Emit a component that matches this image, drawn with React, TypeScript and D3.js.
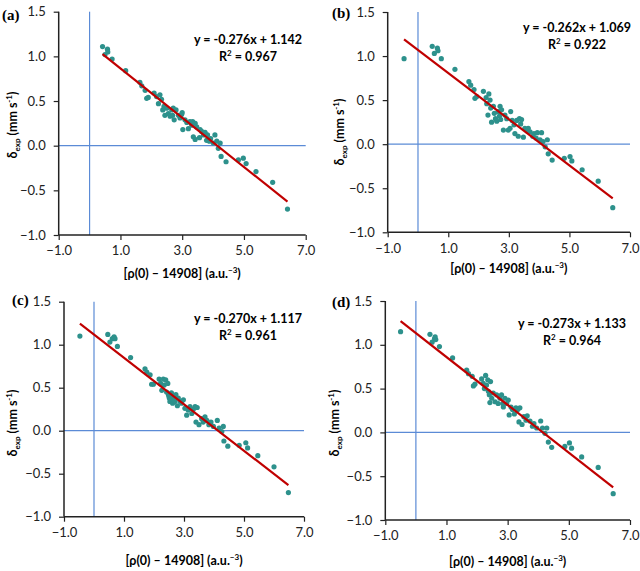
import { useEffect, useRef } from "react";
import * as d3 from "d3";

// panel (a)
const aX = [0.42, 0.5, 0.58, 0.59, 0.73, 1.17, 1.63, 1.69, 1.8, 1.85, 1.9, 2.09, 2.17, 2.23, 2.28, 2.33, 2.37, 2.41, 2.44, 2.5, 2.55, 2.61, 2.66, 2.69, 2.74, 2.71, 2.8, 2.88, 2.93, 2.98, 3.0, 3.02, 3.09, 3.15, 3.2, 3.25, 3.31, 3.34, 3.36, 3.42, 3.42, 3.47, 3.56, 3.58, 3.63, 3.69, 3.74, 3.79, 3.82, 3.88, 3.92, 4.01, 4.06, 4.12, 4.17, 4.23, 4.26, 4.42, 4.82, 4.98, 5.07, 5.39, 5.93, 6.41];
const aY = [1.11, 1.02, 1.08, 1.05, 0.97, 0.84, 0.71, 0.67, 0.62, 0.53, 0.54, 0.59, 0.55, 0.47, 0.57, 0.52, 0.4, 0.44, 0.34, 0.42, 0.36, 0.33, 0.4, 0.34, 0.29, 0.42, 0.4, 0.34, 0.31, 0.35, 0.37, 0.18, 0.29, 0.26, 0.19, 0.27, 0.23, 0.27, 0.1, 0.25, 0.07, 0.21, 0.09, 0.18, 0.16, 0.12, 0.15, 0.06, 0.12, 0.05, 0.08, 0.03, 0.12, 0.05, -0.03, 0.03, -0.12, -0.18, -0.16, -0.14, -0.2, -0.29, -0.41, -0.71];

// panel (b)
const bX = [-0.46, 0.47, 0.54, 0.64, 0.66, 0.77, 1.22, 1.68, 1.74, 1.85, 1.88, 1.94, 2.16, 2.25, 2.27, 2.31, 2.34, 2.38, 2.4, 2.43, 2.49, 2.52, 2.56, 2.6, 2.65, 2.69, 2.71, 2.73, 2.76, 2.82, 2.87, 2.93, 2.98, 3.04, 3.06, 3.11, 3.17, 3.2, 3.26, 3.31, 3.35, 3.39, 3.42, 3.48, 3.53, 3.61, 3.64, 3.7, 3.79, 3.83, 3.9, 3.94, 4.03, 4.08, 4.13, 4.2, 4.27, 4.3, 4.43, 4.83, 5.02, 5.08, 5.42, 5.95, 6.43];
const bY = [0.97, 1.11, 1.03, 1.09, 1.06, 0.97, 0.85, 0.71, 0.67, 0.62, 0.52, 0.54, 0.6, 0.53, 0.46, 0.33, 0.57, 0.5, 0.41, 0.25, 0.43, 0.35, 0.29, 0.26, 0.37, 0.32, 0.43, 0.28, 0.39, 0.16, 0.33, 0.29, 0.16, 0.18, 0.37, 0.27, 0.22, 0.12, 0.27, 0.09, 0.29, 0.23, 0.28, 0.08, 0.18, 0.15, 0.18, 0.14, 0.09, 0.12, 0.07, 0.13, 0.05, 0.13, 0.03, -0.03, 0.05, -0.11, -0.18, -0.16, -0.14, -0.19, -0.29, -0.42, -0.72];

// panel (c)
const cX = [-0.47, 0.46, 0.53, 0.61, 0.67, 0.7, 0.78, 1.22, 1.7, 1.76, 1.87, 1.92, 1.98, 2.17, 2.22, 2.26, 2.31, 2.34, 2.39, 2.42, 2.46, 2.48, 2.51, 2.53, 2.56, 2.59, 2.62, 2.64, 2.7, 2.73, 2.78, 2.81, 2.87, 2.92, 2.98, 3.03, 3.09, 3.14, 3.2, 3.26, 3.31, 3.37, 3.4, 3.44, 3.5, 3.59, 3.64, 3.7, 3.76, 3.83, 3.9, 3.98, 4.11, 4.17, 4.26, 4.31, 4.33, 4.46, 4.84, 5.06, 5.12, 5.46, 6.0, 6.48, 2.5, 2.55, 2.6, 2.66, 2.58];
const cY = [1.1, 1.12, 1.03, 1.07, 1.09, 1.07, 0.98, 0.85, 0.72, 0.68, 0.65, 0.54, 0.54, 0.6, 0.55, 0.47, 0.6, 0.53, 0.59, 0.45, 0.55, 0.42, 0.38, 0.34, 0.4, 0.36, 0.32, 0.38, 0.34, 0.42, 0.29, 0.38, 0.34, 0.32, 0.36, 0.26, 0.18, 0.24, 0.28, 0.2, 0.25, 0.28, 0.1, 0.27, 0.07, 0.14, 0.1, 0.16, 0.12, 0.07, 0.1, 0.05, 0.12, 0.03, -0.01, 0.05, -0.12, -0.18, -0.17, -0.14, -0.2, -0.29, -0.42, -0.72, 0.4, 0.37, 0.42, 0.35, 0.44];

// panel (d)
const dX = [-0.5, 0.46, 0.53, 0.61, 0.63, 0.65, 0.77, 1.2, 1.66, 1.72, 1.84, 1.88, 1.93, 2.15, 2.2, 2.24, 2.28, 2.31, 2.35, 2.37, 2.4, 2.42, 2.44, 2.48, 2.53, 2.59, 2.64, 2.69, 2.75, 2.8, 2.84, 2.86, 2.91, 2.97, 3.02, 3.05, 3.11, 3.16, 3.22, 3.27, 3.33, 3.37, 3.4, 3.47, 3.53, 3.6, 3.64, 3.73, 3.81, 3.86, 3.95, 4.08, 4.14, 4.22, 4.28, 4.33, 4.44, 4.87, 5.02, 5.09, 5.42, 5.96, 6.45];
const dY = [1.15, 1.12, 1.03, 1.07, 1.09, 1.06, 0.98, 0.85, 0.71, 0.67, 0.64, 0.53, 0.55, 0.61, 0.56, 0.5, 0.65, 0.54, 0.6, 0.47, 0.43, 0.34, 0.58, 0.39, 0.45, 0.35, 0.43, 0.33, 0.39, 0.43, 0.33, 0.29, 0.39, 0.33, 0.37, 0.2, 0.29, 0.26, 0.21, 0.28, 0.26, 0.12, 0.28, 0.09, 0.18, 0.14, 0.19, 0.13, 0.07, 0.1, 0.05, 0.13, 0.05, -0.01, 0.05, -0.11, -0.17, -0.16, -0.12, -0.18, -0.28, -0.4, -0.7];

const slopes = [-0.276, -0.262, -0.27, -0.273];
const intercepts = [1.142, 1.069, 1.117, 1.133];
const r2Values = ["0.967", "0.922", "0.961", "0.964"];
const panelLabels = ["(a)", "(b)", "(c)", "(d)"];
const xTicks = [-1, 1, 3, 5, 7];
const yTicks = [-1, -0.5, 0, 0.5, 1, 1.5];

const seriesX = [aX, bX, cX, dX];
const seriesY = [aY, bY, cY, dY];

// layout of each panel in page pixels
const layouts = [
  { l: 58.7, r: 305.7, t: 11.7, b: 235, eqX: 248, eqY: 44, tagX: 2, tagY: 20, xtY: 278, ytX: 13, ytY: 125 },
  { l: 387.7, r: 630, t: 12, b: 232.3, eqX: 577, eqY: 32, tagX: 332, tagY: 18, xtY: 273, ytX: 340, ytY: 132 },
  { l: 64, r: 304, t: 301.7, b: 516.7, eqX: 248, eqY: 323, tagX: 12, tagY: 305, xtY: 565, ytX: 13, ytY: 423 },
  { l: 385.3, r: 630, t: 301, b: 520, eqX: 572, eqY: 328, tagX: 332, tagY: 307, xtY: 566, ytX: 335, ytY: 423 },
];

const FONT = "Lato, 'Open Sans', sans-serif";

export default function App() {
  const svgRef = useRef<SVGSVGElement | null>(null);

  useEffect(() => {
    if (!svgRef.current) return;
    const svg = d3.select(svgRef.current);
    svg.selectAll("*").remove();

    layouts.forEach((p, i) => {
      const xs = seriesX[i];
      const ys = seriesY[i];
      const x = d3.scaleLinear().domain([-1, 7]).range([p.l, p.r]);
      const y = d3.scaleLinear().domain([-1, 1.5]).range([p.b, p.t]);
      const g = svg.append("g");

      // blue reference lines at x = 0 and y = 0
      g.append("line")
        .attr("x1", x(0)).attr("x2", x(0))
        .attr("y1", y(1.5)).attr("y2", y(-1))
        .attr("stroke", "#5b8bd6").attr("stroke-width", 1.2);
      g.append("line")
        .attr("x1", x(-1)).attr("x2", x(7))
        .attr("y1", y(0)).attr("y2", y(0))
        .attr("stroke", "#5b8bd6").attr("stroke-width", 1.2);

      // axes
      const xAxis = g.append("g")
        .attr("transform", `translate(0,${p.b})`)
        .call(d3.axisBottom(x).tickValues(xTicks).tickFormat(d3.format(".1f")).tickSize(5).tickPadding(6));
      const yAxis = g.append("g")
        .attr("transform", `translate(${p.l},0)`)
        .call(d3.axisLeft(y).tickValues(yTicks).tickFormat(d3.format(".1f")).tickSize(5).tickPadding(8));
      [xAxis, yAxis].forEach((ax) => {
        ax.select(".domain").attr("stroke", "#222").attr("stroke-width", 1.5);
        ax.selectAll(".tick line").attr("stroke", "#222").attr("stroke-width", 1.2);
        ax.selectAll("text").attr("font-family", FONT).attr("font-size", 13).attr("fill", "#222");
      });
      xAxis.select(".domain").attr("d", `M${p.l},0H${p.r}`);
      yAxis.select(".domain").attr("d", `M0,${p.t}V${p.b}`);

      // points
      g.append("g")
        .selectAll("circle")
        .data(xs.map((v, k) => [v, ys[k]]))
        .join("circle")
        .attr("cx", (d) => x(d[0]))
        .attr("cy", (d) => y(d[1]))
        .attr("r", 2.6)
        .attr("fill", "#2d918c");

      // linear fit across the data range
      const ext = d3.extent(xs) as [number, number];
      const line = d3.line<number>()
        .x((v) => x(v))
        .y((v) => y(slopes[i] * v + intercepts[i]));
      g.append("path")
        .datum(ext)
        .attr("d", line)
        .attr("fill", "none")
        .attr("stroke", "#c00000")
        .attr("stroke-width", 2.2);

      // equation
      g.append("text")
        .attr("x", p.eqX).attr("y", p.eqY)
        .attr("text-anchor", "middle")
        .attr("font-family", FONT).attr("font-weight", "bold").attr("font-size", 12.5)
        .text(`y = ${slopes[i].toFixed(3)}x + ${intercepts[i].toFixed(3)}`);
      const r2 = g.append("text")
        .attr("x", p.eqX).attr("y", p.eqY + 17)
        .attr("text-anchor", "middle")
        .attr("font-family", FONT).attr("font-weight", "bold").attr("font-size", 12.5);
      r2.append("tspan").text("R");
      r2.append("tspan").attr("font-size", 8).attr("dy", -5).text("2");
      r2.append("tspan").attr("dy", 5).text(` = ${r2Values[i]}`);

      // panel tag
      g.append("text")
        .attr("x", p.tagX).attr("y", p.tagY)
        .attr("font-family", "'Liberation Serif', 'Times New Roman', serif")
        .attr("font-weight", "bold").attr("font-size", 15)
        .text(panelLabels[i]);

      // x title
      const xt = g.append("text")
        .attr("x", (p.l + p.r) / 2).attr("y", p.xtY)
        .attr("text-anchor", "middle")
        .attr("font-family", FONT).attr("font-weight", "bold").attr("font-size", 12.5);
      xt.append("tspan").text("[ρ(0) – 14908] (a.u.");
      xt.append("tspan").attr("font-size", 8).attr("dy", -5).text("−3");
      xt.append("tspan").attr("dy", 5).text(")");

      // y title
      const yt = g.append("text")
        .attr("transform", `translate(${p.ytX + 4},${p.ytY}) rotate(-90)`)
        .attr("text-anchor", "middle")
        .attr("font-family", FONT).attr("font-weight", "bold").attr("font-size", 12.5);
      yt.append("tspan").text("δ");
      yt.append("tspan").attr("font-size", 8).attr("dy", 3).text("exp");
      yt.append("tspan").attr("dy", -3).text(" (mm s");
      yt.append("tspan").attr("font-size", 8).attr("dy", -5).text("-1");
      yt.append("tspan").attr("dy", 5).text(")");
    });
  }, []);

  return (
    <svg
      ref={svgRef}
      width={640}
      height={571}
      style={{ position: "absolute", left: 0, top: 0, background: "#fff" }}
    />
  );
}
